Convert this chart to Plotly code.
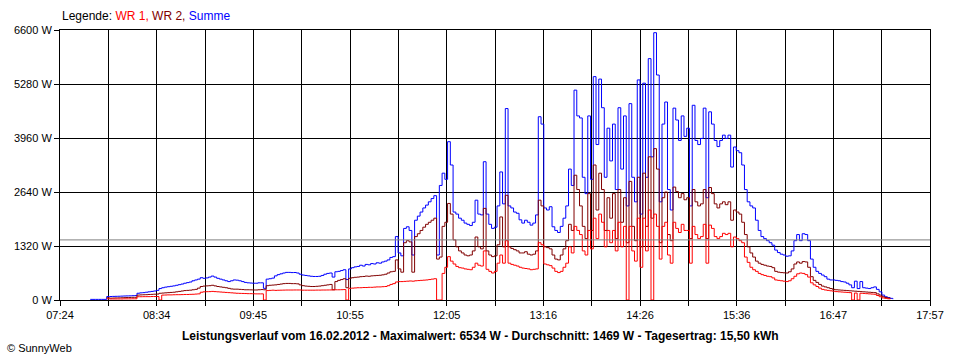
import plotly.graph_objects as go

# ---- data -------------------------------------------------------------
# sample times in minutes after midnight (07:40 ... 17:30, every 2 minutes)
times = list(range(460, 1052, 2))

tick_labels = ["07:24", "08:34", "09:45", "10:55", "12:05", "13:16",
               "14:26", "15:36", "16:47", "17:57"]
y_ticks = [0, 1320, 2640, 3960, 5280, 6600]
avg_w = 1469
max_w = 6534
yield_kwh = "15,50"
date_str = "16.02.2012"

summe = [
    # 07:40-07:58
    None, None, None, 15, 15, 15, 15, 15, 15, 85,
    # 08
    85, 88, 90, 92, 95, 98, 100, 102, 105, 108,
    165, 175, 180, 190, 200, 210, 220, 235, 280, 300,
    315, 325, 335, 345, 360, 375, 390, 410, 425, 440,
    # 09
    470, 490, 510, 545, 530, 540, 560, 585, 560, 530,
    510, 490, 470, 450, 470, 490, 485, 470, 450, 430,
    420, 415, 410, 410, 420, 420, 285, 510, 520, 535,
    # 10
    590, 620, 640, 660, 675, 675, 670, 672, 660, 630,
    610, 600, 590, 580, 575, 575, 580, 600, 630, 650,
    660, 560, 690, 700, 720, 740, 500, 760, 790, 810,
    # 11
    820, 850, 830, 870, 860, 890, 880, 910, 900, 930,
    950, 980, 1040, 1060, 1550, 1150, 1080, 1750, 1790, 1700,
    1100, 1950, 2050, 2150, 2250, 2320, 2400, 2480, 2550, 1100,
    # 12
    2800, 3100, 2950, 3870, 3300, 2150, 2100, 2000, 1950, 1880,
    1850, 1820, 1900, 2440, 2100, 2080, 3380, 2100, 1850, 1750,
    1780, 2300, 3130, 2350, 4680, 2300, 2250, 2150, 2120, 1960,
    # 13
    1880, 1950, 1900, 1830, 1880, 2080, 4480, 4300, 2250, 2200,
    2280, 1790, 1700, 1650, 1800, 2000, 2300, 3200, 2800, 5130,
    4500, 4450, 3000, 2600, 4500, 2950, 5460, 3800, 5400, 4700,
    # 14
    3000, 4200, 3400, 4300, 2700, 4700, 3200, 4500, 2300, 4800,
    3000, 2400, 5380, 2100, 5300, 3000, 5900, 3500, 6534, 5500,
    2400, 4300, 4840, 2700, 2200, 4690, 4400, 3900, 4500, 4000,
    # 15
    4200, 2300, 4760, 3900, 3800, 3950, 4690, 2500, 4600, 4300,
    3900, 3750, 3900, 4030, 3950, 4030, 3250, 3740, 3650, 3600,
    3300, 2700, 2400, 2300, 2250, 1950, 1700, 1550, 1500, 1450,
    # 16
    1400, 1340, 1220, 1160, 1120, 1100, 1070, 1080, 1200, 1450,
    1600, 1450, 1620, 1600, 1450, 1000, 800, 700, 650, 610,
    570, 510, 490, 490, 480, 470, 450, 440, 410, 370,
    # 17:00-17:30
    300, 460, 280, 450, 300, 290, 280, 300, 320, 260, 200, 120, 80, 60, 40, 20,
]

wr2 = [
    # 07:40-07:58
    None, None, None, None, None, None, None, None, None, 55,
    # 08
    45, 48, 50, 52, 55, 58, 60, 62, 65, 65,
    120, 125, 128, 130, 135, 138, 142, 145, 165, 170,
    175, 180, 185, 190, 200, 210, 220, 230, 235, 240,
    # 09
    250, 260, 290, 330, 340, 345, 350, 360, 345, 330,
    320, 310, 300, 285, 270, 265, 265, 260, 255, 250,
    250, 248, 245, 245, 250, 255, 250, 350, 360, 365,
    # 10
    370, 380, 390, 400, 405, 405, 400, 400, 395, 370,
    350, 340, 335, 330, 330, 335, 340, 350, 360, 370,
    380, 250, 450, 480, 500, 520, 300, 530, 545, 555,
    # 11
    560, 570, 575, 585, 580, 590, 595, 600, 605, 615,
    630, 660, 690, 700, 980, 760, 680, 1400, 1450, 1420,
    680, 1550, 1620, 1700, 1780, 1850, 1900, 1950, 2000, 1000,
    # 12
    1050, 1800, 1900, 2360, 2100, 1470, 1300, 1200, 1150, 1100,
    1080, 1100, 1200, 1540, 1300, 1250, 2240, 1200, 1100, 1060,
    1080, 1350, 2030, 1300, 2560, 1300, 1260, 1230, 1200, 1150,
    # 13
    1150, 1180, 1120, 1100, 1120, 1200, 2440, 2300, 1300, 1280,
    1250, 1100, 1000, 980, 1100, 1250, 1450, 1850, 1700, 3050,
    2700, 2300, 1800, 1500, 2600, 1700, 3300, 2200, 3100, 2700,
    # 14
    1700, 2500, 2000, 2600, 1500, 2700, 1900, 2500, 1400, 2900,
    1800, 1450, 3000, 1300, 3100, 1800, 3500, 2000, 3700, 3200,
    1400, 2500, 2640, 1600, 1450, 2760, 2650, 2500, 2600, 2450,
    # 15
    2500, 1500, 2700, 2400, 2300, 2350, 2700, 1500, 2750, 2600,
    2350, 2250, 2350, 2400, 2330, 2400, 1950, 2200, 2150, 2100,
    1900, 1600, 1300, 1150, 1050, 950, 900, 870, 850, 830,
    # 16
    820, 790, 700, 680, 670, 665, 660, 690, 760, 880,
    930, 900, 940, 930, 800, 570, 480, 430, 380, 340,
    320, 300, 280, 260, 250, 245, 240, 235, 230, 225,
    # 17:00-17:30
    220, 215, 210, 205, 200, 195, 190, 185, 180, 150, 120, 80, 60, 45, 30, None,
]

wr1 = [
    # 07:40-07:58
    None, None, None, None, None, None, None, None, None, 30,
    # 08
    25, 25, 25, 25, 25, 28, 28, 28, 30, 30,
    80, 80, 82, 82, 82, 85, 85, 85, 0, 120,
    122, 125, 125, 128, 130, 130, 132, 135, 135, 138,
    # 09
    140, 145, 150, 190, 200, 203, 205, 210, 205, 200,
    195, 190, 185, 180, 175, 170, 165, 162, 160, 158,
    155, 155, 152, 150, 150, 150, 0, 230, 235, 240,
    # 10
    235, 238, 240, 242, 244, 244, 244, 245, 245, 245,
    240, 240, 240, 240, 240, 242, 242, 244, 244, 245,
    246, 248, 250, 250, 252, 255, 0, 285, 290, 295,
    # 11
    300, 300, 305, 305, 310, 310, 315, 320, 320, 325,
    330, 350, 380, 400, 440, 450, 450, 455, 460, 465,
    460, 470, 475, 480, 485, 490, 500, 510, 520, 0,
    # 12
    0, 650, 800, 1060, 950, 880, 820, 790, 780, 760,
    750, 740, 800, 900, 850, 830, 1200, 750, 700, 660,
    700, 900, 1100, 900, 1450, 900, 870, 850, 830, 800,
    # 13
    780, 770, 760, 740, 750, 760, 1400, 1350, 880, 860,
    840, 780, 700, 670, 700, 800, 900, 1300, 1150, 1800,
    1700, 1600, 1200, 1100, 1700, 1250, 2000, 1500, 2100, 1900,
    # 14
    1300, 1700, 1400, 1700, 1200, 1900, 1300, 1800, 0, 1800,
    1200, 950, 2000, 800, 2000, 1200, 2200, 0, 2100, 1800,
    1000, 1800, 1900, 1100, 900, 1900, 1750, 1650, 1850, 1700,
    # 15
    1700, 900, 1800, 1600, 1500, 1550, 1850, 900, 1830, 1750,
    1550, 1500, 1550, 1630, 1600, 1630, 1300, 1540, 1500, 1450,
    1400, 1050, 920, 800, 740, 700, 650, 620, 600, 580,
    # 16
    570, 540, 490, 480, 470, 460, 450, 470, 520, 580,
    640, 660, 650, 620, 560, 420, 370, 330, 290, 260,
    245, 235, 225, 215, 205, 200, 195, 190, 185, 180,
    # 17:00-17:30
    0, 170, 0, 165, 160, 155, 150, 145, 140, 110, 80, 50, 40, 30, 20, None,
]

assert len(times) == len(summe) == len(wr2) == len(wr1), (len(times), len(summe), len(wr2), len(wr1))

# ---- figure -------------------------------------------------------------
x_start, x_end = 444, 1077
n = len(tick_labels) - 1
major_pos = [x_start + i * (x_end - x_start) / n for i in range(n + 1)]
minor_pos = [x_start + i * (x_end - x_start) / (2 * n) for i in range(2 * n + 1)]

FONT = "Liberation Sans, Arial, sans-serif"

fig = go.Figure()
fig.add_trace(go.Scatter(x=times, y=summe, mode="lines", line_shape="hv",
                         line=dict(color="#0000FF", width=1), name="Summe"))
fig.add_trace(go.Scatter(x=times, y=wr2, mode="lines", line_shape="hv",
                         line=dict(color="#800000", width=1), name="WR 2"))
fig.add_trace(go.Scatter(x=times, y=wr1, mode="lines", line_shape="hv",
                         line=dict(color="#FF0000", width=1), name="WR 1"))

fig.add_hline(y=avg_w, line_color="#808080", line_width=1, layer="above")

fig.update_layout(
    width=960, height=360,
    margin=dict(l=60, r=30, t=30, b=60),
    paper_bgcolor="white", plot_bgcolor="white",
    showlegend=False,
    font=dict(family=FONT, size=11, color="black"),
    xaxis=dict(
        range=[x_start, x_end],
        tickmode="array", tickvals=major_pos, ticktext=tick_labels,
        ticks="outside", ticklen=5, tickcolor="black", tickwidth=1,
        showgrid=True, gridcolor="black", gridwidth=1,
        minor=dict(tickvals=minor_pos, ticks="outside", ticklen=5,
                   tickcolor="black", showgrid=True, gridcolor="black", gridwidth=1),
        showline=True, linecolor="black", linewidth=1, mirror=True,
        zeroline=False, tickfont=dict(size=11, color="black"),
    ),
    yaxis=dict(
        range=[0, 6600],
        tickmode="array", tickvals=y_ticks, ticktext=[f"{v} W" for v in y_ticks],
        ticks="outside", ticklen=5, tickcolor="black", tickwidth=1,
        showgrid=True, gridcolor="black", gridwidth=1,
        showline=True, linecolor="black", linewidth=1, mirror=True,
        zeroline=False, tickfont=dict(size=11, color="black"),
    ),
)

fig.add_annotation(
    xref="paper", yref="paper", x=0, y=1.052, xanchor="left", yanchor="middle",
    showarrow=False, font=dict(size=12, color="black"),
    text="Legende: <span style='color:#FF0000'>WR 1, </span>"
         "<span style='color:#800000'>WR 2, </span>"
         "<span style='color:#0000FF'>Summe</span>",
)
fig.add_annotation(
    xref="paper", yref="paper", x=0.4828, y=-0.133, xanchor="center", yanchor="middle",
    showarrow=False, font=dict(size=12, color="black"),
    text=f"<b>Leistungsverlauf vom {date_str} - Maximalwert: {max_w} W - "
         f"Durchschnitt: {avg_w} W - Tagesertrag: {yield_kwh} kWh</b>",
)
fig.add_annotation(
    xref="paper", yref="paper", x=-0.063, y=-0.178, xanchor="left", yanchor="middle",
    showarrow=False, font=dict(size=11, color="black"),
    text="© SunnyWeb",
)

fig.write_html("out.html",
               config={"displayModeBar": False},
               post_script="document.body.style.margin='0';document.body.style.overflow='hidden';")
